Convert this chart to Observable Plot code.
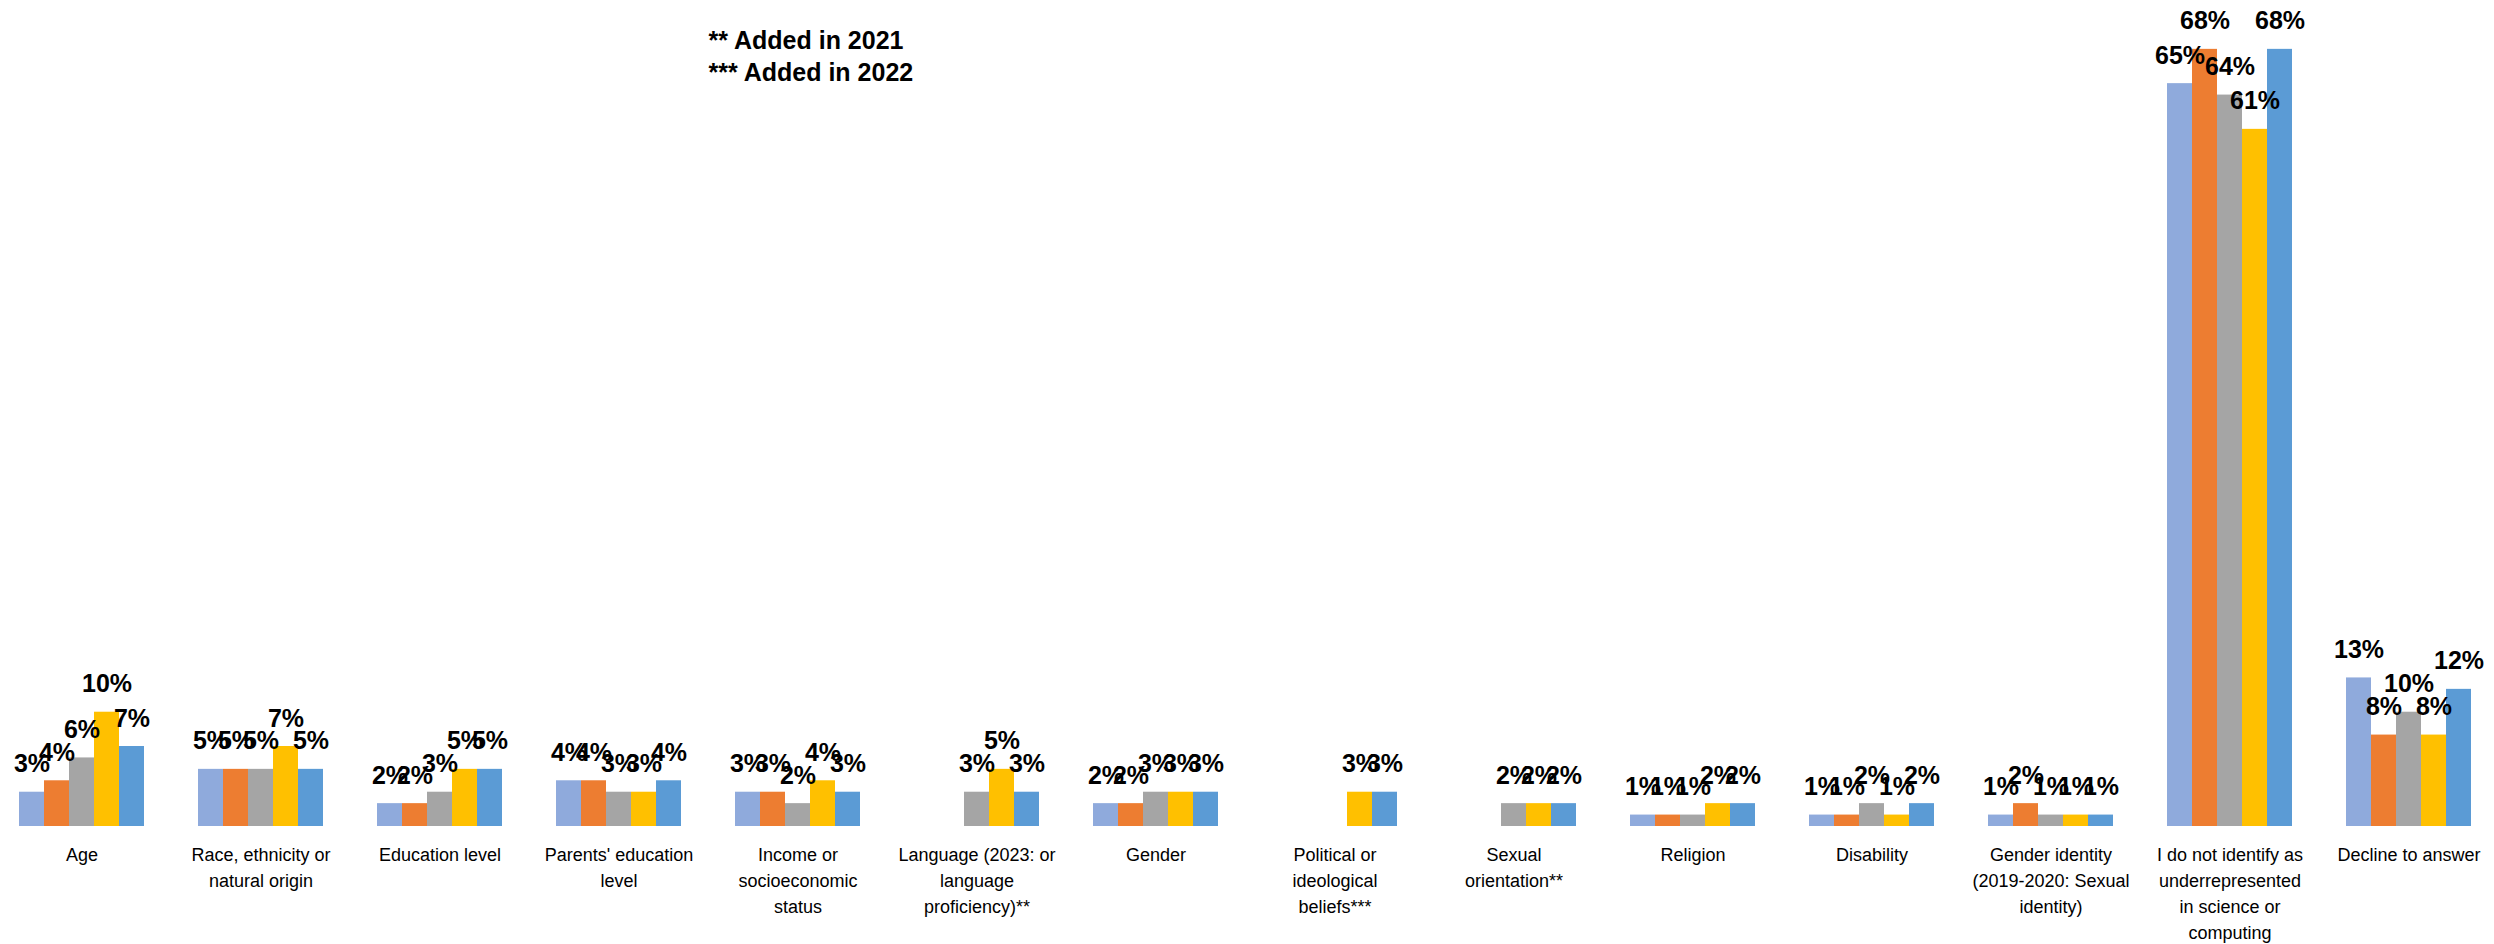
<!DOCTYPE html>
<html><head><meta charset="utf-8">
<script src="https://cdn.jsdelivr.net/npm/d3@7"></script>
<script src="https://cdn.jsdelivr.net/npm/@observablehq/plot@0.6"></script>
<style>
html,body{margin:0;padding:0;background:#fff;}
#chart{width:2494px;height:944px;}
</style></head><body><div id="chart"></div>
<script>
const categories = [
  "Age", "Race, ethnicity or natural origin", "Education level", "Parents' education level",
  "Income or socioeconomic status", "Language (2023: or language proficiency)**", "Gender",
  "Political or ideological beliefs***", "Sexual orientation**", "Religion", "Disability",
  "Gender identity (2019-2020: Sexual identity)",
  "I do not identify as underrepresented in science or computing", "Decline to answer"
];
const tickLabels = [
  "Age", "Race, ethnicity or\nnatural origin", "Education level", "Parents' education\nlevel",
  "Income or\nsocioeconomic\nstatus", "Language (2023: or\nlanguage\nproficiency)**", "Gender",
  "Political or\nideological\nbeliefs***", "Sexual\norientation**", "Religion", "Disability",
  "Gender identity\n(2019-2020: Sexual\nidentity)",
  "I do not identify as\nunderrepresented\nin science or\ncomputing", "Decline to answer"
];
const years = ["2019", "2020", "2021", "2022", "2023"];
const colors = ["#8FAADC", "#ED7D31", "#A5A5A5", "#FFC000", "#5B9BD5"];
const v2019 = [3, 5, 2, 4, 3, null, 2, null, null, 1, 1, 1, 65, 13];
const v2020 = [4, 5, 2, 4, 3, null, 2, null, null, 1, 1, 2, 68, 8];
const v2021 = [6, 5, 3, 3, 2, 3, 3, null, 2, 1, 2, 1, 64, 10];
const v2022 = [10, 7, 5, 3, 4, 5, 3, 3, 2, 2, 1, 1, 61, 8];
const v2023 = [7, 5, 5, 4, 3, 3, 3, 3, 2, 2, 2, 1, 68, 12];
const footnotes = ["** Added in 2021", "*** Added in 2022"];

const series = [v2019, v2020, v2021, v2022, v2023];
const rows = [];
categories.forEach((c, i) => {
  years.forEach((y, j) => {
    const v = series[j][i];
    if (v != null) rows.push({category: c, year: y, value: v});
  });
});

const chart = Plot.plot({
  width: 2494,
  height: 944,
  marginTop: 26,
  marginBottom: 118,
  marginLeft: 0,
  marginRight: 4,
  style: {fontFamily: "'Liberation Sans', Arial, sans-serif", color: "#000", background: "#fff"},
  fx: {domain: categories, paddingInner: 0.304, paddingOuter: 0.0857, label: null},
  x: {domain: years, padding: 0, axis: null},
  y: {domain: [0, 70], axis: null},
  color: {domain: years, range: colors},
  marks: [
    Plot.barY(rows, {fx: "category", x: "year", y: "value", fill: "year"}),
    Plot.text(rows, {
      fx: "category", x: "year", y: "value", text: d => d.value + "%",
      dy: -20, lineAnchor: "bottom", fontWeight: "bold", fontSize: 25, fill: "#000"
    }),
    Plot.axisFx({
      anchor: "bottom", tickSize: 0, tickPadding: 16, fontSize: 18, lineHeight: 1.44,
      tickFormat: d => tickLabels[categories.indexOf(d)], label: null, fill: "#000"
    }),
    Plot.text([footnotes.join("\n")], {
      fx: () => categories[4], frameAnchor: "top-left", dx: -27, dy: 0,
      textAnchor: "start", lineAnchor: "top", lineHeight: 1.28,
      fontWeight: "bold", fontSize: 25, fill: "#000", text: d => d
    })
  ]
});
document.getElementById("chart").appendChild(chart);
</script>
</body></html>
